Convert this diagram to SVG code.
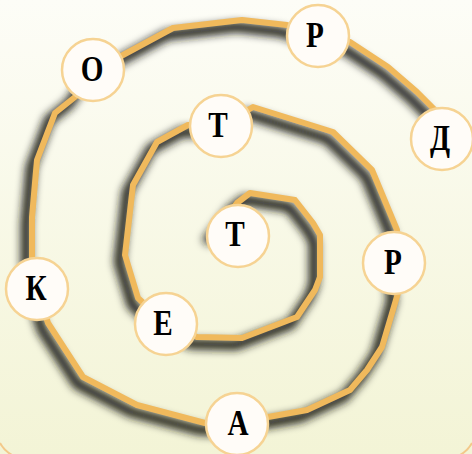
<svg xmlns="http://www.w3.org/2000/svg" width="472" height="454" viewBox="0 0 472 454">
  <defs>
    <linearGradient id="bg" x1="0" y1="0" x2="0" y2="1">
      <stop offset="0" stop-color="#fdfdf7"/>
      <stop offset="1" stop-color="#f3f4d6"/>
    </linearGradient>
    <linearGradient id="topline" x1="0" y1="0" x2="1" y2="0">
      <stop offset="0" stop-color="#f3d29a" stop-opacity="0"/>
      <stop offset="0.05" stop-color="#f3d29a" stop-opacity="0.8"/>
      <stop offset="0.5" stop-color="#f3d29a" stop-opacity="0.6"/>
      <stop offset="0.75" stop-color="#f3d29a" stop-opacity="0"/>
    </linearGradient>
    <filter id="shadow" x="-20%" y="-20%" width="140%" height="140%">
      <feGaussianBlur stdDeviation="4"/>
    </filter>
    <style>
      .spiral { fill: none; stroke: #f0b95c; stroke-width: 6; stroke-linejoin: round; stroke-linecap: butt; }
      .shadow { fill: none; stroke: #1e1e14; stroke-width: 10; stroke-linejoin: round; opacity: 1; filter: url(#shadow); }
      .node circle { fill: #fffcf8; stroke: #f6d393; stroke-width: 2.5; }
      .node text { font-family: "Liberation Serif", "DejaVu Serif", serif; font-weight: bold; font-size: 34px; fill: #000; text-anchor: middle; }
      .corner { fill: none; stroke: #f3c98a; stroke-width: 2; }
    </style>
  </defs>

  <rect x="0" y="0" width="472" height="454" fill="url(#bg)"/>
  <line x1="0" y1="0.5" x2="472" y2="0.5" stroke="url(#topline)" stroke-width="2"/>
  <path class="corner" d="M 0,443 A 30,30 0 0 0 12,455"/>
  <path class="corner" d="M 460,455 A 30,30 0 0 0 472,443"/>

  <g id="connectors">
    <g transform="translate(-6,7)">
      <polyline class="shadow" points="212,236 237,203 250,193 295,200 313,223 320,235 320,277 315,290 297,317 242,338 197,337 166,324 138,298 125,255 133,185 157,142 188,125 221,126 253,107 333,132 372,170 397,230 394,263 398,293 382,347 367,370 350,390 307,410 268,417 237,424 205,423 137,405 83,377 48,323 37,289 32,258 32,217 37,160 55,113 75,97 93,70 123,55 173,28 242,20 287,25 318,36 350,42 388,67 417,92 435,110 442,139"/>
    </g>
    <polyline class="spiral" points="212,236 237,203 250,193 295,200 313,223 320,235 320,277 315,290 297,317 242,338 197,337 166,324 138,298 125,255 133,185 157,142 188,125 221,126 253,107 333,132 372,170 397,230 394,263 398,293 382,347 367,370 350,390 307,410 268,417 237,424 205,423 137,405 83,377 48,323 37,289 32,258 32,217 37,160 55,113 75,97 93,70 123,55 173,28 242,20 287,25 318,36 350,42 388,67 417,92 435,110 442,139"/>
  </g>

  <g id="node-t-center" class="node"><circle cx="238" cy="236" r="31"/><text transform="translate(235,246) scale(0.86,1.06)">Т</text></g>
  <g id="node-e" class="node"><circle cx="166" cy="324" r="31"/><text transform="translate(163,335) scale(0.86,1.06)">Е</text></g>
  <g id="node-t-top" class="node"><circle cx="221" cy="126" r="31"/><text transform="translate(218,137) scale(0.86,1.06)">Т</text></g>
  <g id="node-r-right" class="node"><circle cx="394" cy="263" r="31"/><text transform="translate(393,274) scale(0.86,1.06)">Р</text></g>
  <g id="node-a" class="node"><circle cx="237" cy="424" r="31"/><text transform="translate(238,435) scale(0.86,1.06)">А</text></g>
  <g id="node-k" class="node"><circle cx="37" cy="289" r="31"/><text transform="translate(36,300) scale(0.86,1.06)">К</text></g>
  <g id="node-o" class="node"><circle cx="93" cy="70" r="31"/><text transform="translate(92,81) scale(0.86,1.06)">О</text></g>
  <g id="node-r-top" class="node"><circle cx="318" cy="36" r="31"/><text transform="translate(315,47) scale(0.86,1.06)">Р</text></g>
  <g id="node-d" class="node"><circle cx="442" cy="139" r="31"/><text transform="translate(440,150) scale(0.86,1.06)">Д</text></g>
</svg>
